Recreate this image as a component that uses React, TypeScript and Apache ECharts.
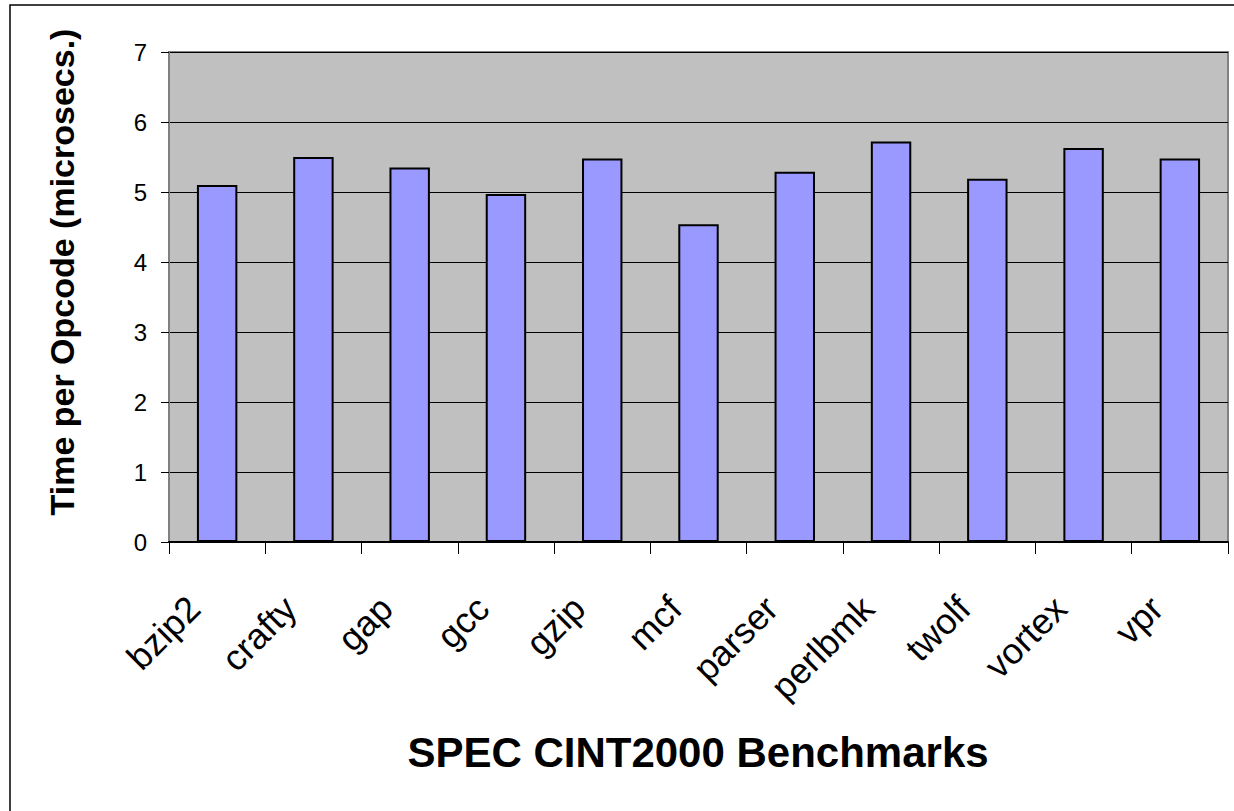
import React, { useEffect, useRef } from "react";
import * as echarts from "echarts";

const categories = ["bzip2", "crafty", "gap", "gcc", "gzip", "mcf", "parser", "perlbmk", "twolf", "vortex", "vpr"];
const values = [5.1, 5.5, 5.35, 4.97, 5.48, 4.54, 5.29, 5.72, 5.19, 5.63, 5.48];
const yTitle = "Time per Opcode (microsecs.)";
const xTitle = "SPEC CINT2000 Benchmarks";

export default function App() {
  const ref = useRef<HTMLDivElement>(null);
  useEffect(() => {
    if (!ref.current) return;
    const chart = echarts.init(ref.current, null, { renderer: "svg" });
    const font = "Liberation Sans, Arial, sans-serif";
    chart.setOption({
      animation: false,
      backgroundColor: "#ffffff",
      grid: {
        left: 169,
        right: 6,
        top: 52,
        bottom: 269,
        show: true,
        backgroundColor: "#C0C0C0",
        borderColor: "#808080",
        borderWidth: 2,
      },
      xAxis: {
        type: "category",
        data: categories,
        axisLine: { show: true, lineStyle: { color: "#000", width: 2 } },
        axisTick: { show: true, alignWithLabel: false, length: 12, lineStyle: { color: "#000", width: 1 } },
        axisLabel: {
          rotate: 45,
          fontSize: 36,
          color: "#000",
          fontFamily: font,
          margin: 37,
          padding: [0, 33, 0, 0],
          interval: 0,
        },
        splitLine: { show: false },
      },
      yAxis: {
        type: "value",
        min: 0,
        max: 7,
        interval: 1,
        axisLine: { show: true, lineStyle: { color: "#808080", width: 2 } },
        axisTick: { show: true, length: 8, lineStyle: { color: "#000", width: 1 } },
        axisLabel: { fontSize: 24, color: "#000", fontFamily: font, margin: 22 },
        splitLine: { show: true, lineStyle: { color: "#000", width: 1 } },
      },
      series: [
        {
          type: "bar",
          data: values,
          barWidth: "42%",
          itemStyle: { color: "#9999FF", borderColor: "#000", borderWidth: 2 },
        },
      ],
      graphic: [
        {
          type: "rect",
          shape: { x: 10, y: 5, width: 1300, height: 900 },
          style: { fill: "none", stroke: "#000", lineWidth: 1.5 },
          silent: true,
        },
        {
          type: "text",
          x: 698,
          y: 752,
          style: {
            text: xTitle,
            fontSize: 42,
            fontWeight: "bold",
            fontFamily: font,
            fill: "#000",
            align: "center",
            verticalAlign: "middle",
          },
        },
        {
          type: "text",
          x: 62,
          y: 272,
          rotation: Math.PI / 2,
          style: {
            text: yTitle,
            fontSize: 34,
            fontWeight: "bold",
            fontFamily: font,
            fill: "#000",
            align: "center",
            verticalAlign: "middle",
          },
        },
      ],
    });
    return () => chart.dispose();
  }, []);
  return <div ref={ref} style={{ position: "fixed", left: 0, top: 0, width: 1234, height: 811 }} />;
}
